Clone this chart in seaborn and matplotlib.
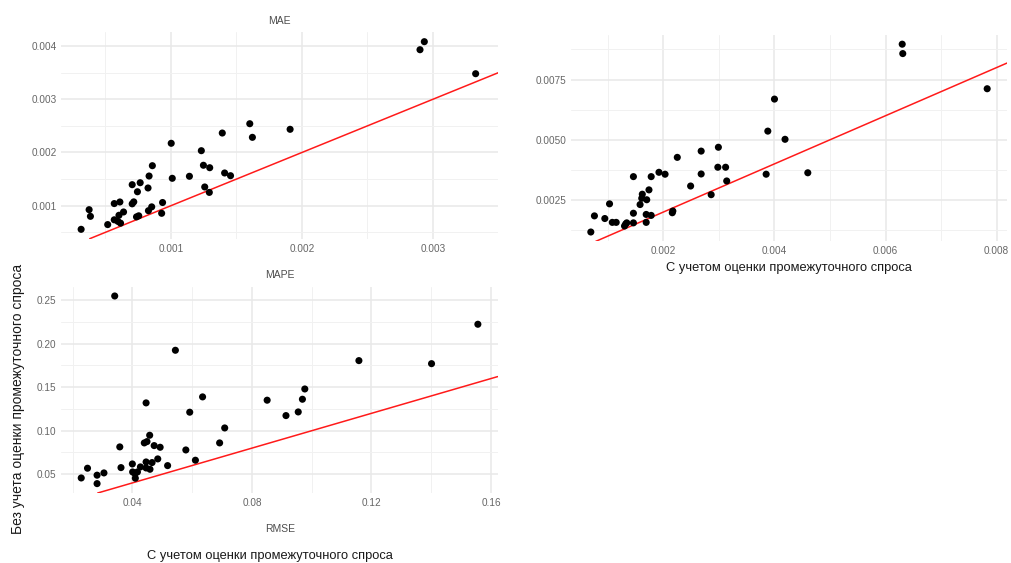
import matplotlib
matplotlib.use("Agg")
import matplotlib.pyplot as plt
import seaborn as sns
import pandas as pd

# ---------------- data ----------------
mae_x = [0.000314, 0.000375, 0.000385, 0.000517, 0.000567, 0.000610, 0.000567,
         0.000603, 0.000595, 0.000615, 0.000638, 0.000704, 0.000716, 0.000704,
         0.000765, 0.000744, 0.000825, 0.000737, 0.000754, 0.000828, 0.000853,
         0.000929, 0.000936, 0.000833, 0.000858, 0.001002, 0.001010, 0.001141,
         0.001232, 0.001248, 0.001296, 0.001258, 0.001293, 0.001392, 0.001410,
         0.001455, 0.001602, 0.001622, 0.001910, 0.002902, 0.002935, 0.003327]
mae_y = [0.000556, 0.000925, 0.000800, 0.000645, 0.001040, 0.001070, 0.000735,
         0.000820, 0.000705, 0.000672, 0.000882, 0.001035, 0.001072, 0.001395,
         0.001432, 0.001262, 0.001333, 0.000790, 0.000810, 0.000906, 0.000978,
         0.000857, 0.001060, 0.001558, 0.001752, 0.002173, 0.001515, 0.001553,
         0.002034, 0.001760, 0.001714, 0.001352, 0.001250, 0.002366, 0.001615,
         0.001564, 0.002541, 0.002285, 0.002436, 0.003932, 0.004083, 0.003481]

rmse_x = [0.000693, 0.000758, 0.000945, 0.00103, 0.00108, 0.00115, 0.00130,
          0.00132, 0.00134, 0.00146, 0.00146, 0.00146, 0.00158, 0.00161,
          0.00162, 0.00170, 0.00169, 0.00169, 0.00174, 0.00178, 0.00178,
          0.00192, 0.00203, 0.00216, 0.00217, 0.00225, 0.00249, 0.00268,
          0.00268, 0.00286, 0.00299, 0.00298, 0.00312, 0.00314, 0.00385,
          0.00388, 0.00400, 0.00419, 0.00460, 0.00630, 0.00631, 0.00783]
rmse_y = [0.00117, 0.00184, 0.00173, 0.00234, 0.00157, 0.00157, 0.00142,
          0.00150, 0.00155, 0.00155, 0.00195, 0.00347, 0.00231, 0.00257,
          0.00274, 0.00251, 0.00190, 0.00157, 0.00292, 0.00347, 0.00186,
          0.00365, 0.00357, 0.00197, 0.00204, 0.00427, 0.00308, 0.00453,
          0.00358, 0.00272, 0.00469, 0.00386, 0.00386, 0.00329, 0.00357,
          0.00536, 0.00669, 0.00502, 0.00363, 0.00897, 0.00858, 0.00712]

mape_x = [0.0341, 0.0544, 0.1556, 0.1158, 0.1401, 0.0977, 0.0969, 0.0851,
          0.0955, 0.0914, 0.0635, 0.0592, 0.0446, 0.0709, 0.0692, 0.0579,
          0.0611, 0.0518, 0.0485, 0.0493, 0.0473, 0.0458, 0.0449, 0.0440,
          0.0358, 0.0362, 0.0446, 0.0466, 0.0446, 0.0459, 0.0427, 0.0400,
          0.0401, 0.0409, 0.0417, 0.0410, 0.0305, 0.0282, 0.0282, 0.0250,
          0.0229]
mape_y = [0.2549, 0.1925, 0.2224, 0.1806, 0.1771, 0.1480, 0.1362, 0.1351,
          0.1216, 0.1174, 0.1389, 0.1213, 0.1320, 0.1032, 0.0860, 0.0779,
          0.0661, 0.0599, 0.0676, 0.0810, 0.0829, 0.0948, 0.0875, 0.0860,
          0.0814, 0.0576, 0.0641, 0.0634, 0.0572, 0.0557, 0.0584, 0.0618,
          0.0526, 0.0507, 0.0526, 0.0454, 0.0515, 0.0489, 0.0392, 0.0569,
          0.0457]

mae_xticks = [0.001, 0.002, 0.003]
mae_xlabels = ["0.001", "0.002", "0.003"]
mae_xminor = [0.0005, 0.0015, 0.0025, 0.0035]
mae_yticks = [0.001, 0.002, 0.003, 0.004]
mae_ylabels = ["0.001", "0.002", "0.003", "0.004"]
mae_yminor = [0.0005, 0.0015, 0.0025, 0.0035]

rmse_xticks = [0.002, 0.004, 0.006, 0.008]
rmse_xlabels = ["0.002", "0.004", "0.006", "0.008"]
rmse_xminor = [0.001, 0.003, 0.005, 0.007]
rmse_yticks = [0.0025, 0.0050, 0.0075]
rmse_ylabels = ["0.0025", "0.0050", "0.0075"]
rmse_yminor = [0.00125, 0.00375, 0.00625, 0.00875]

mape_xticks = [0.04, 0.08, 0.12, 0.16]
mape_xlabels = ["0.04", "0.08", "0.12", "0.16"]
mape_xminor = [0.02, 0.06, 0.10, 0.14]
mape_yticks = [0.05, 0.10, 0.15, 0.20, 0.25]
mape_ylabels = ["0.05", "0.10", "0.15", "0.20", "0.25"]
mape_yminor = [0.075, 0.125, 0.175, 0.225]

title_mae = "MAE"
title_mape = "MAPE"
label_rmse = "RMSE"
xlabel_text = "С учетом оценки промежуточного спроса"
ylabel_text = "Без учета оценки промежуточного спроса"

# ---------------- style ----------------
sns.set_theme(style="white")
plt.rcParams['font.family'] = ['Liberation Sans', 'DejaVu Sans']

fig = plt.figure(figsize=(10.11, 5.63), dpi=100)
W, H = 1011, 563


def rect(l, t, r, b):
    return [l / W, 1 - b / H, (r - l) / W, (b - t) / H]


def panel(ax, x, y, xt, xl, xm, yt, yl, ym):
    df = pd.DataFrame({"x": x, "y": y})
    sns.scatterplot(data=df, x="x", y="y", ax=ax, color="black", s=26,
                    edgecolor="none", linewidth=0, zorder=3)
    x0, x1 = min(x), max(x)
    y0, y1 = min(y), max(y)
    dx, dy = (x1 - x0) * 0.05, (y1 - y0) * 0.05
    xlim = (x0 - dx, x1 + dx)
    ylim = (y0 - dy, y1 + dy)
    ax.axline((xlim[0], xlim[0]), slope=1, color="#ff1a1a", lw=1.1, zorder=2)
    ax.set_xlim(*xlim)
    ax.set_ylim(*ylim)
    ax.set_xticks(xt)
    ax.set_xticklabels(xl)
    ax.set_xticks(xm, minor=True)
    ax.set_yticks(yt)
    ax.set_yticklabels(yl)
    ax.set_yticks(ym, minor=True)
    ax.grid(which="major", color="#e8e8e8", lw=1.1, zorder=0)
    ax.grid(which="minor", color="#f1f1f1", lw=0.7, zorder=0)
    ax.set_axisbelow(True)
    ax.tick_params(which="both", length=0, labelsize=7.2, labelcolor="#666666", pad=3.5)
    for s in ax.spines.values():
        s.set_visible(False)
    ax.set_xlabel("")
    ax.set_ylabel("")


ax1 = fig.add_axes(rect(61.4, 32.3, 498.3, 238.7))
panel(ax1, mae_x, mae_y, mae_xticks, mae_xlabels, mae_xminor,
      mae_yticks, mae_ylabels, mae_yminor)

ax2 = fig.add_axes(rect(571, 34.8, 1007, 241.4))
panel(ax2, rmse_x, rmse_y, rmse_xticks, rmse_xlabels, rmse_xminor,
      rmse_yticks, rmse_ylabels, rmse_yminor)

ax3 = fig.add_axes(rect(61.4, 286.6, 497.7, 493))
panel(ax3, mape_x, mape_y, mape_xticks, mape_xlabels, mape_xminor,
      mape_yticks, mape_ylabels, mape_yminor)

# texts
fig.text(279 / W, 1 - 21 / H, title_mae, ha="center", va="center",
         fontsize=7.5, color="#4d4d4d")
fig.text(280 / W, 1 - 275 / H, title_mape, ha="center", va="center",
         fontsize=7.5, color="#4d4d4d")
fig.text(280 / W, 1 - 529 / H, label_rmse, ha="center", va="center",
         fontsize=7.5, color="#4d4d4d")
fig.text(789 / W, 1 - 268 / H, xlabel_text, ha="center", va="center",
         fontsize=9.3, color="#1a1a1a")
fig.text(270 / W, 1 - 556 / H, xlabel_text, ha="center", va="center",
         fontsize=9.3, color="#1a1a1a")
fig.text(18 / W, 1 - 399 / H, ylabel_text, ha="center", va="center",
         rotation=90, fontsize=10, color="#1a1a1a")

fig.savefig("out.png", dpi=100)
